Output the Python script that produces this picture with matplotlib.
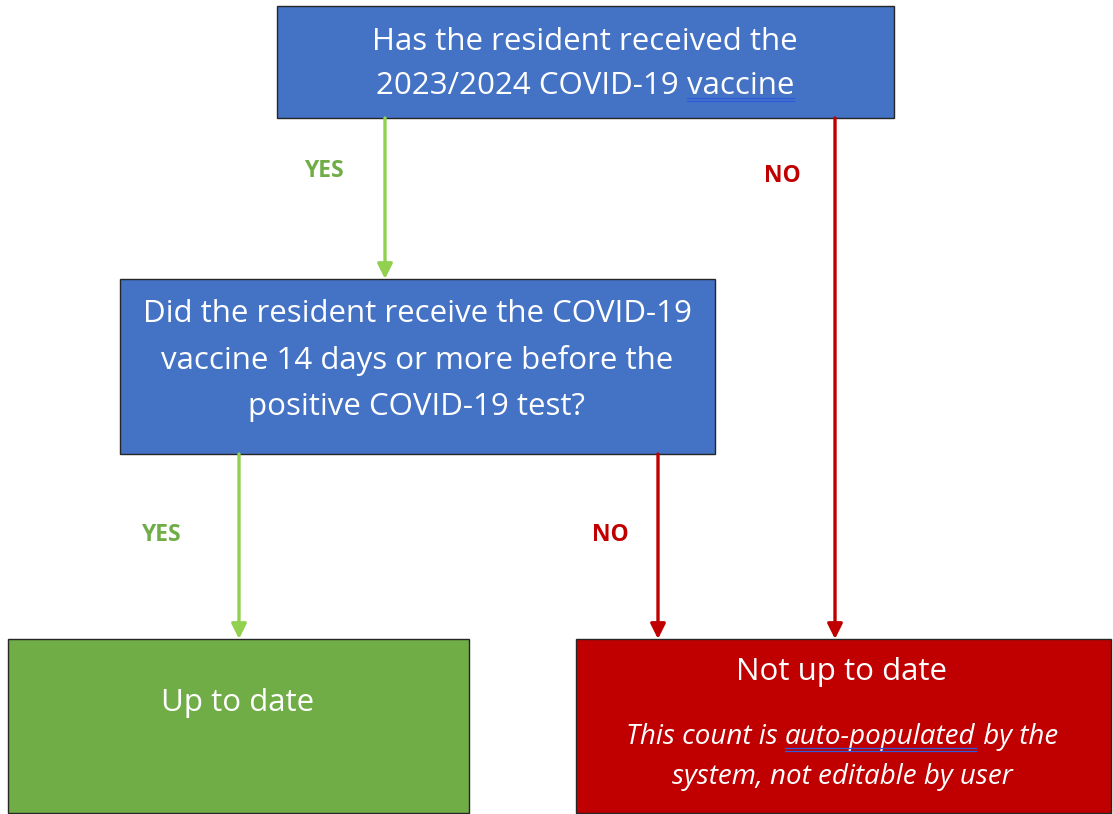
import matplotlib

matplotlib.use("Agg")
import matplotlib.pyplot as plt
from matplotlib.patches import Rectangle

plt.rcParams["font.family"] = ["Open Sans", "DejaVu Sans"]

# box texts (one entry per line; words in *stars* get the blue spell-check underline)
top_lines = ["Has the resident received the", "2023/2024 COVID-19 *vaccine*"]
mid_lines = ["Did the resident receive the COVID-19",
             "vaccine 14 days or more before the",
             "positive COVID-19 test?"]
yes_title = "Up to date"
no_title = "Not up to date"
no_note = ["This count is *auto-populated* by the", "system, not editable by user"]
branch_yes = "YES"
branch_no = "NO"

BLUE = "#4472C4"
GREEN = "#70AD47"
RED = "#C00000"
ARROW_GREEN = "#92D050"
EDGE = "#262626"

W, H = 1113, 814
fig = plt.figure(figsize=(W / 100, H / 100), dpi=100)
ax = fig.add_axes([0, 0, 1, 1])
ax.set_xlim(0, W)
ax.set_ylim(H, 0)
ax.axis("off")


def box(x0, y0, x1, y1, color):
    ax.add_patch(Rectangle((x0, y0), x1 - x0, y1 - y0, facecolor=color,
                           edgecolor=EDGE, linewidth=1.0, zorder=2))


def arrow(x, y0, y1, color):
    ax.annotate("", xy=(x, y1), xytext=(x, y0),
                arrowprops=dict(arrowstyle="-|>,head_length=0.9,head_width=0.45",
                                color=color, lw=2.4, shrinkA=0, shrinkB=0),
                zorder=3)


def line_text(cx, cy, raw, size, style="normal", ul=(12, 15)):
    """中央揃えで1行描く。*word* は青い二重下線付き。"""
    parts = raw.split("*")
    renderer = fig.canvas.get_renderer()
    widths = []
    probes = []
    for p in parts:
        t = ax.text(0, 0, p, fontsize=size, style=style)
        bb = t.get_window_extent(renderer)
        widths.append(bb.width)
        probes.append(t)
    for t in probes:
        t.remove()
    total = sum(widths)
    x = cx - total / 2
    for i, (p, w) in enumerate(zip(parts, widths)):
        ax.text(x, cy, p, fontsize=size, style=style, color="white",
                ha="left", va="center", zorder=4)
        if i % 2 == 1:
            for dy in ul:
                ax.plot([x, x + w], [cy + dy, cy + dy], color="#2F5BE0",
                        lw=0.9, zorder=4)
        x += w


# boxes
box(277, 6, 894, 118, BLUE)
box(120, 279, 715, 454, BLUE)
box(8, 639, 469, 813, GREEN)
box(576, 639, 1111, 813, RED)

# arrows
arrow(385, 118, 279, ARROW_GREEN)
arrow(835, 118, 639, RED)
arrow(239, 454, 639, ARROW_GREEN)
arrow(658, 454, 639, RED)

fig.canvas.draw()
for i, s in enumerate(top_lines):
    line_text(585, 42 + 44 * i, s, 22.5)
for i, s in enumerate(mid_lines):
    line_text(417, 314 + 46.5 * i, s, 22.5)
line_text(238, 703, yes_title, 22.5)
line_text(842, 672, no_title, 22.5)
for i, s in enumerate(no_note):
    line_text(842, 737 + 40 * i, s, 20, style="italic", ul=(11, 14))

# branch labels
kw = dict(fontsize=16.5, fontweight="bold", ha="center", va="center")
ax.text(324, 171, branch_yes, color=GREEN, **kw)
ax.text(782, 176, branch_no, color=RED, **kw)
ax.text(161, 535, branch_yes, color=GREEN, **kw)
ax.text(610, 535, branch_no, color=RED, **kw)

fig.savefig("out.png", dpi=100)
